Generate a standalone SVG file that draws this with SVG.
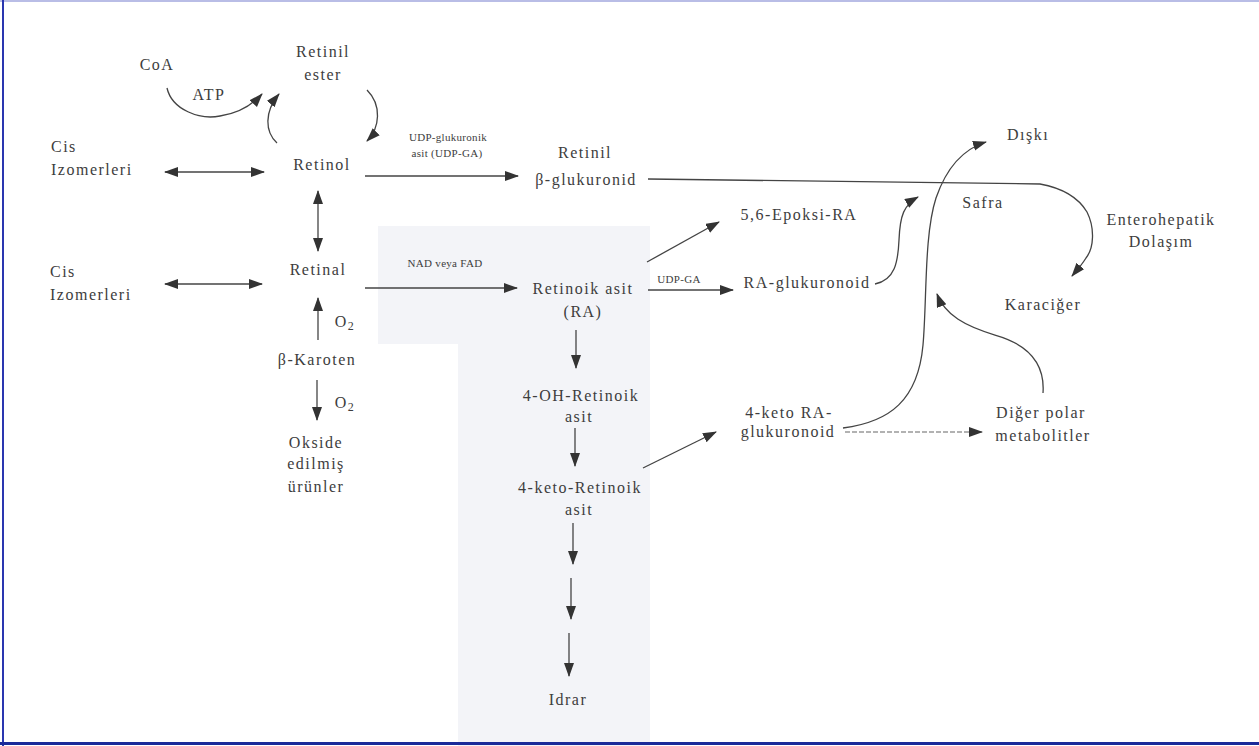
<svg xmlns="http://www.w3.org/2000/svg" width="1259" height="746" viewBox="0 0 1259 746">
<style>
text{font-family:"Liberation Serif","Times New Roman",serif;fill:#3d3d3d;font-size:16px;letter-spacing:1.5px;text-anchor:middle}
text.l{text-anchor:start}
text.s{font-size:11px;letter-spacing:0.3px}
.c{fill:none;stroke:#444;stroke-width:1.3}
.d{fill:none;stroke:#999;stroke-width:1.3;stroke-dasharray:5 2}
</style>
<defs>
<marker id="ah" markerUnits="userSpaceOnUse" markerWidth="14" markerHeight="12" refX="13" refY="5" orient="auto-start-reverse">
<path d="M0,0 L14,5 L0,10 z" fill="#333"/>
</marker>
</defs>
<rect width="1259" height="746" fill="#fff"/>
<g id="shading" fill="#f3f4f8">
<rect x="378" y="226" width="272" height="118"/>
<rect x="458" y="344" width="192" height="402"/>
</g>
<g id="frame">
<line x1="0" y1="1" x2="1259" y2="1" stroke="#b9bde6" stroke-width="2"/>
<line x1="3" y1="0" x2="3" y2="746" stroke="#2a36b0" stroke-width="2"/>
<line x1="0" y1="743.5" x2="1259" y2="743.5" stroke="#1a2a99" stroke-width="3"/>
</g>
<g id="connectors">
<path class="c" d="M167,88 C172,110 200,120 220,116 C240,113 252,105 262,94" marker-end="url(#ah)"/>
<path class="c" d="M277,143 C265,132 264,112 279,94" marker-end="url(#ah)"/>
<path class="c" d="M367,90 C382,105 380,128 367,141" marker-end="url(#ah)"/>
<line class="c" x1="165" y1="172" x2="264" y2="172" marker-start="url(#ah)" marker-end="url(#ah)"/>
<line class="c" x1="165" y1="284" x2="262" y2="284" marker-start="url(#ah)" marker-end="url(#ah)"/>
<line class="c" x1="318" y1="191" x2="318" y2="251" marker-start="url(#ah)" marker-end="url(#ah)"/>
<line class="c" x1="365" y1="176" x2="518" y2="176" marker-end="url(#ah)"/>
<path class="c" d="M648,179 L1040,184 C1062,188 1078,197 1087,212 C1095,228 1094,248 1086,258 C1081,266 1077,270 1072,276" marker-end="url(#ah)"/>
<line class="c" x1="365" y1="288" x2="517" y2="288" marker-end="url(#ah)"/>
<line class="c" x1="647" y1="262" x2="719" y2="222" marker-end="url(#ah)"/>
<line class="c" x1="648" y1="290" x2="733" y2="290" marker-end="url(#ah)"/>
<path class="c" d="M875,284 C895,280 898,262 899,240 C900,215 904,205 918,197" marker-end="url(#ah)"/>
<path class="c" d="M843,428 C890,422 918,400 923,345 C927,300 924,235 936,198 C945,172 960,150 986,142" marker-end="url(#ah)"/>
<path class="c" d="M1043,393 C1045,365 1030,345 995,335 C965,326 945,315 937,294" marker-end="url(#ah)"/>
<line class="c" x1="643" y1="468" x2="716" y2="432" marker-end="url(#ah)"/>
<line class="d" x1="845" y1="432" x2="982" y2="432" marker-end="url(#ah)"/>
<line class="c" x1="318" y1="340" x2="318" y2="298" marker-end="url(#ah)"/>
<line class="c" x1="317" y1="380" x2="317" y2="420" marker-end="url(#ah)"/>
<line class="c" x1="576" y1="330" x2="576" y2="368" marker-end="url(#ah)"/>
<line class="c" x1="575" y1="428" x2="575" y2="466" marker-end="url(#ah)"/>
<line class="c" x1="573" y1="523" x2="573" y2="564" marker-end="url(#ah)"/>
<line class="c" x1="571" y1="578" x2="571" y2="619" marker-end="url(#ah)"/>
<line class="c" x1="569" y1="633" x2="569" y2="676" marker-end="url(#ah)"/>
</g>
<g id="labels">
<text x="448" y="141" class="s">UDP-glukuronik</text>
<text x="447" y="157" class="s">asit (UDP-GA)</text>
<text x="445" y="267" class="s">NAD veya FAD</text>
<text x="679" y="283" class="s">UDP-GA</text>
<text x="209" y="100">ATP</text>
<text x="345" y="327">O<tspan font-size="12" dy="3">2</tspan></text>
<text x="345" y="408">O<tspan font-size="12" dy="3">2</tspan></text>
<text x="983" y="208">Safra</text>
</g>
<g id="n-coa"><text x="157" y="70">CoA</text></g>
<g id="n-retinil-ester"><text x="323" y="57">Retinil</text><text x="323" y="80">ester</text></g>
<g id="n-cis1"><text class="l" x="51" y="152">Cis</text><text class="l" x="51" y="175">Izomerleri</text></g>
<g id="n-retinol"><text x="322" y="170">Retinol</text></g>
<g id="n-retinil-glu"><text x="585" y="158">Retinil</text><text x="586" y="185">β-glukuronid</text></g>
<g id="n-diski"><text x="1028" y="140">Dışkı</text></g>
<g id="n-entero"><text x="1161" y="225">Enterohepatik</text><text x="1161" y="247">Dolaşım</text></g>
<g id="n-epoksi"><text x="799" y="220">5,6-Epoksi-RA</text></g>
<g id="n-karaciger"><text x="1043" y="310">Karaciğer</text></g>
<g id="n-cis2"><text class="l" x="50" y="277">Cis</text><text class="l" x="50" y="300">Izomerleri</text></g>
<g id="n-retinal"><text x="318" y="275">Retinal</text></g>
<g id="n-ra"><text x="583" y="294">Retinoik asit</text><text x="583" y="317">(RA)</text></g>
<g id="n-ra-glu"><text x="807" y="288">RA-glukuronoid</text></g>
<g id="n-karoten"><text x="317" y="365">β-Karoten</text></g>
<g id="n-okside"><text x="316" y="448">Okside</text><text x="316" y="469">edilmiş</text><text x="316" y="492">ürünler</text></g>
<g id="n-4oh"><text x="581" y="401">4-OH-Retinoik</text><text x="579" y="422">asit</text></g>
<g id="n-4keto-glu"><text x="789" y="418">4-keto RA-</text><text x="788" y="437">glukuronoid</text></g>
<g id="n-diger"><text x="1041" y="418">Diğer polar</text><text x="1043" y="441">metabolitler</text></g>
<g id="n-4keto"><text x="580" y="493">4-keto-Retinoik</text><text x="579" y="515">asit</text></g>
<g id="n-idrar"><text x="568" y="705">Idrar</text></g>
</svg>
